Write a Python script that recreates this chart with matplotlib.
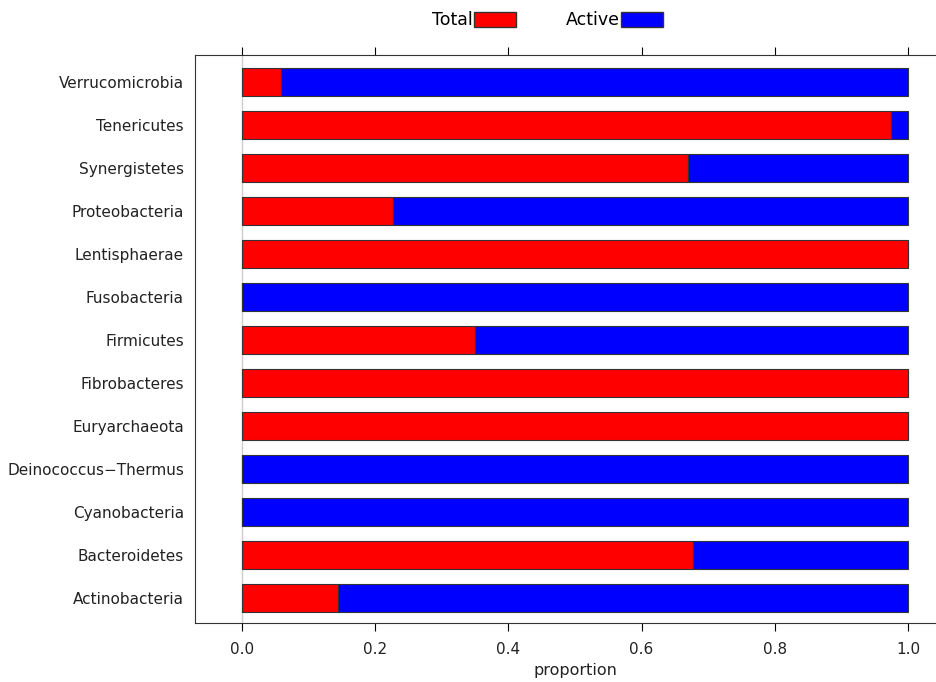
import matplotlib.pyplot as plt
from matplotlib.patches import Patch
import numpy as np

plt.rcParams["font.family"] = ["DejaVu Sans"]

# phyla, bottom to top
phyla = [
    "Actinobacteria", "Bacteroidetes", "Cyanobacteria", "Deinococcus\u2212Thermus",
    "Euryarchaeota", "Fibrobacteres", "Firmicutes", "Fusobacteria",
    "Lentisphaerae", "Proteobacteria", "Synergistetes", "Tenericutes",
    "Verrucomicrobia",
]
total = np.array([0.144, 0.677, 0.0, 0.0, 1.0, 1.0, 0.350, 0.0, 1.0, 0.227, 0.670, 0.974, 0.059])
active = 1.0 - total
xticks = [0.0, 0.2, 0.4, 0.6, 0.8, 1.0]

fig = plt.figure(figsize=(9.36, 6.82), dpi=100)
ax = fig.add_axes([195 / 936, 59 / 682, 760 / 936, 568 / 682])

y = np.arange(len(phyla))
ax.axvline(0, color="#cccccc", linewidth=1, zorder=0)
ax.barh(y, total, height=0.65, color="#ff0000", edgecolor="#333333", linewidth=0.8)
ax.barh(y, active, left=total, height=0.65, color="#0000ff", edgecolor="#333333", linewidth=0.8)

ax.set_xlim(-0.0706, 1.0706)
ax.set_ylim(-0.58, len(phyla) - 1 + 0.63)
ax.set_yticks(y)
ax.set_yticklabels(phyla, fontsize=11, color="#222222")
ax.tick_params(axis="y", length=0, pad=8)
ax.set_xticks(xticks)
ax.set_xticklabels([f"{t:.1f}" for t in xticks], fontsize=11, color="#222222")
ax.tick_params(axis="x", top=True, bottom=True, direction="out", length=6, width=0.8, pad=8)
for s in ax.spines.values():
    s.set_color("#333333")
    s.set_linewidth(0.8)
ax.set_xlabel("proportion", fontsize=11.5, color="#222222", labelpad=4)

handles = [Patch(facecolor="#ff0000", edgecolor="#333333"),
           Patch(facecolor="#0000ff", edgecolor="#333333")]
fig.legend(handles, ["Total", "Active"], loc="center", bbox_to_anchor=(0.585, 0.970),
           ncol=2, markerfirst=False, frameon=False, fontsize=12.5,
           handlelength=2.4, handleheight=0.9, handletextpad=0.05, columnspacing=2.9)

fig.savefig("out.png", dpi=100)
